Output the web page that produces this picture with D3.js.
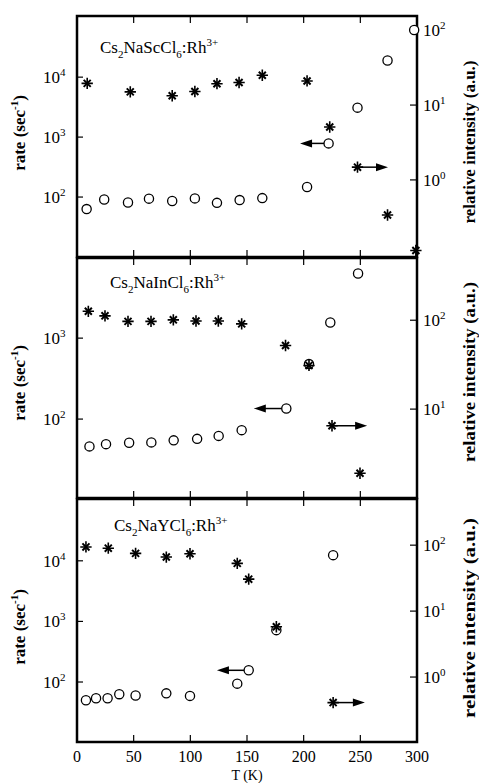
<!DOCTYPE html>
<html>
<head>
<meta charset="utf-8">
<script src="https://cdn.jsdelivr.net/npm/d3@7"></script>
<style>
  body { margin: 0; background: #fff; }
  svg { display: block; font-family: "Liberation Serif", "DejaVu Serif", serif; }
</style>
</head>
<body>
<div id="chart"></div>
<script>
// ---------- data ----------
const tempTicks = [0, 50, 100, 150, 200, 250, 300];

// Cs2NaScCl6:Rh3+
const scRateT = [8.5, 24, 45, 63.5, 84, 104, 123.5, 143.5, 163.5, 203, 222, 247.5, 274, 297.5];
const scRate  = [63, 91, 81, 94, 86, 95, 80, 89, 96, 147, 785, 3100, 19000, 61000];
const scIntT  = [9, 47, 84, 104, 123.5, 143, 163.5, 203, 223, 247.5, 274, 299];
const scInt   = [19.5, 15, 13.3, 15.2, 19.3, 20, 25, 21, 5.1, 1.48, 0.34, 0.114];

// Cs2NaInCl6:Rh3+
const inRateT = [11, 25.6, 46, 65.6, 85.3, 106, 125, 145.3, 184.7, 204.7, 223.5, 248];
const inRate  = [46, 49, 51, 51.5, 54.6, 57, 62, 73, 135, 478, 1560, 6300];
const inIntT  = [10, 24.7, 45, 65.3, 85, 105, 124.7, 145.3, 184, 204.7, 225, 249.7];
const inInt   = [126, 112, 97, 97, 101, 98, 98, 91, 52, 31, 6.5, 1.9];

// Cs2NaYCl6:Rh3+
const yRateT = [7.9, 16.8, 27, 37.3, 51.7, 78.8, 99.7, 141.4, 151.5, 175.9, 226];
const yRate  = [50, 54, 54, 63, 60, 65, 59, 94, 156, 718, 12400];
const yIntT  = [7.9, 27.6, 51.7, 78.8, 99.7, 141.4, 151.5, 175.9, 226];
const yInt   = [94, 90, 75, 66, 74, 53, 30.5, 5.8, 0.41];

// axis extents (log10) and decade ticks
const rateExp  = [[1, 5.02], [1.025, 3.99], [1.01, 5.02]];
const intExp   = [[-1.03, 2.19], [0, 2.70], [-0.985, 2.70]];
const rateTicks = [[2, 3, 4], [2, 3], [2, 3, 4]];
const intTicks  = [[0, 1, 2], [1, 2], [0, 1, 2]];

// compound labels: [host, sub1, middle, sub2]
const compounds = [["Cs", "2", "NaScCl", "6"], ["Cs", "2", "NaInCl", "6"], ["Cs", "2", "NaYCl", "6"]];

// which point carries the arrow, and where the arrow tip sits (T)
const rateArrowIdx = [10, 8, 8];
const rateArrowTip = [196.8, 156, 123.5];
const intArrowIdx  = [9, 10, 8];
const intArrowTip  = [274.4, 256, 254];

(function () {
  const W = 479, H = 783;
  const xL = 77, xR = 417;
  const panelY = [[16, 257], [258, 498], [499, 742]];
  const titleX = [100, 110, 114];
  const titleY = [53, 288, 531];
  const leftLabY = [133, 383, 627];
  const rightLabY = [142, 372, 618];
  const rightLabLen = [163, 180, 200];

  const panels = [
    { rT: scRateT, r: scRate, iT: scIntT, i: scInt },
    { rT: inRateT, r: inRate, iT: inIntT, i: inInt },
    { rT: yRateT, r: yRate, iT: yIntT, i: yInt }
  ];

  const svg = d3.select("#chart").append("svg")
    .attr("width", W).attr("height", H)
    .attr("viewBox", `0 0 ${W} ${H}`);

  const x = d3.scaleLinear().domain([0, 300]).range([xL, xR]);

  const starPlus = d3.symbol().type(d3.symbolPlus).size(44)();
  const starTimes = d3.symbol().type(d3.symbolTimes).size(34)();

  function pow10Label(sel, e) {
    sel.text("10");
    sel.append("tspan").attr("dy", -7).attr("font-size", 11).text(e);
  }

  panels.forEach((p, k) => {
    const [yT, yB] = panelY[k];
    const yRateS = d3.scaleLog().domain(rateExp[k].map(v => Math.pow(10, v))).range([yB, yT]);
    const yIntS = d3.scaleLog().domain(intExp[k].map(v => Math.pow(10, v))).range([yB, yT]);
    const g = svg.append("g");

    // x ticks at top and bottom (inward)
    const xt = tempTicks.slice(1, -1);
    g.selectAll(".xtb").data(xt).join("line")
      .attr("class", "xtb")
      .attr("x1", d => x(d)).attr("x2", d => x(d))
      .attr("y1", yB).attr("y2", yB - 7)
      .attr("stroke", "#000").attr("stroke-width", 1.2);
    g.selectAll(".xtt").data(xt).join("line")
      .attr("class", "xtt")
      .attr("x1", d => x(d)).attr("x2", d => x(d))
      .attr("y1", yT).attr("y2", yT + 7)
      .attr("stroke", "#000").attr("stroke-width", 1.2);

    // left log axis
    rateTicks[k].forEach(e => {
      const yy = yRateS(Math.pow(10, e));
      g.append("line").attr("x1", xL).attr("x2", xL + 6).attr("y1", yy).attr("y2", yy)
        .attr("stroke", "#000").attr("stroke-width", 1.2);
      g.append("text").attr("x", 43).attr("y", yy + 6).attr("font-size", 17)
        .call(pow10Label, e);
    });
    // right log axis
    intTicks[k].forEach(e => {
      const yy = yIntS(Math.pow(10, e));
      g.append("line").attr("x1", xR - 7).attr("x2", xR).attr("y1", yy).attr("y2", yy)
        .attr("stroke", "#000").attr("stroke-width", 1.2);
      g.append("text").attr("x", 423).attr("y", yy + 6).attr("font-size", 17)
        .call(pow10Label, e);
    });

    // frame
    g.append("rect").attr("x", xL).attr("y", yT)
      .attr("width", xR - xL).attr("height", yB - yT)
      .attr("fill", "none").attr("stroke", "#000").attr("stroke-width", 2.5);

    // compound label
    const c = compounds[k];
    const t = g.append("text").attr("x", titleX[k]).attr("y", titleY[k]).attr("font-size", 17);
    t.append("tspan").text(c[0]);
    t.append("tspan").attr("dy", 5).attr("font-size", 11).text(c[1]);
    t.append("tspan").attr("dy", -5).text(c[2]);
    t.append("tspan").attr("dy", 5).attr("font-size", 11).text(c[3]);
    t.append("tspan").attr("dy", -5).text(":Rh");
    t.append("tspan").attr("dy", -7).attr("font-size", 11).text("3+");

    // axis titles
    const lt = g.append("text")
      .attr("transform", `translate(25,${leftLabY[k]}) rotate(-90)`)
      .attr("text-anchor", "middle").attr("font-size", 17).attr("font-weight", "bold");
    lt.append("tspan").text("rate (sec");
    lt.append("tspan").attr("dy", -7).attr("font-size", 11).text("-1");
    lt.append("tspan").attr("dy", 7).text(")");

    g.append("text")
      .attr("transform", `translate(475,${rightLabY[k]}) rotate(-90)`)
      .attr("text-anchor", "middle").attr("font-size", 17).attr("font-weight", "bold")
      .attr("textLength", rightLabLen[k]).attr("lengthAdjust", "spacingAndGlyphs")
      .text("relative intensity (a.u.)");

    // arrows (drawn first, under markers)
    const ra = rateArrowIdx[k];
    const rax = x(p.rT[ra]), ray = yRateS(p.r[ra]), rtx = x(rateArrowTip[k]);
    g.append("line").attr("x1", rax).attr("x2", rtx + 8).attr("y1", ray).attr("y2", ray)
      .attr("stroke", "#000").attr("stroke-width", 1.5);
    g.append("path").attr("d", `M${rtx},${ray}L${rtx + 12},${ray - 4}L${rtx + 12},${ray + 4}Z`)
      .attr("fill", "#000");

    const ia = intArrowIdx[k];
    const iax = x(p.iT[ia]), iay = yIntS(p.i[ia]), itx = x(intArrowTip[k]);
    g.append("line").attr("x1", iax).attr("x2", itx - 8).attr("y1", iay).attr("y2", iay)
      .attr("stroke", "#000").attr("stroke-width", 1.5);
    g.append("path").attr("d", `M${itx},${iay}L${itx - 12},${iay - 4}L${itx - 12},${iay + 4}Z`)
      .attr("fill", "#000");

    // rate: open circles
    g.selectAll("circle.rate").data(p.r.map((v, j) => [p.rT[j], v])).join("circle")
      .attr("class", "rate")
      .attr("cx", d => x(d[0])).attr("cy", d => yRateS(d[1]))
      .attr("r", 4.6).attr("fill", "#fff").attr("stroke", "#000").attr("stroke-width", 1.3);

    // intensity: bold asterisks
    const stars = g.selectAll("g.int").data(p.i.map((v, j) => [p.iT[j], v])).join("g")
      .attr("class", "int")
      .attr("transform", d => `translate(${x(d[0])},${yIntS(d[1])})`);
    stars.append("path").attr("d", starPlus).attr("fill", "none").attr("stroke", "#000").attr("stroke-width", 1.6);
    stars.append("path").attr("d", starTimes).attr("fill", "none").attr("stroke", "#000").attr("stroke-width", 2);
  });

  // x tick labels + title on bottom panel
  svg.selectAll("text.xl").data(tempTicks).join("text")
    .attr("class", "xl")
    .attr("x", d => x(d)).attr("y", 762)
    .attr("text-anchor", "middle").attr("font-size", 16)
    .text(d => d);
  svg.append("text").attr("x", x(150)).attr("y", 780)
    .attr("text-anchor", "middle").attr("font-size", 14)
    .text("T (K)");
})();
</script>
</body>
</html>
